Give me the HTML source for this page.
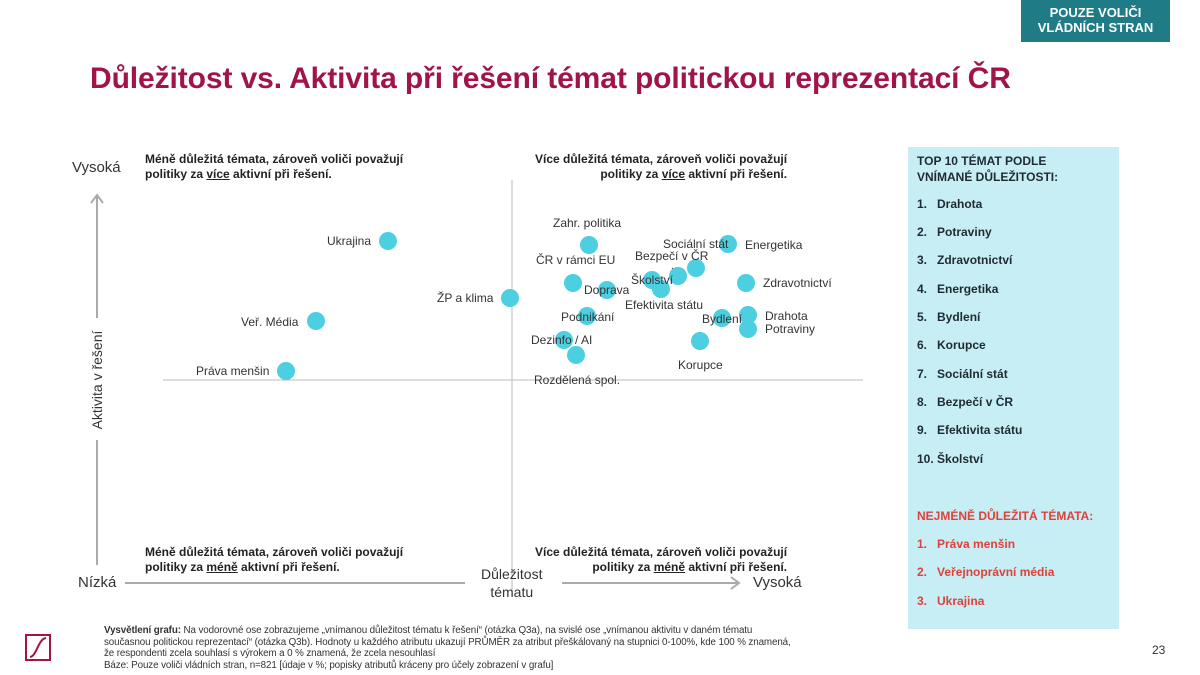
<!DOCTYPE html>
<html><head><meta charset="utf-8"><style>
body{margin:0;width:1200px;height:675px;background:#fff;position:relative;overflow:hidden;font-family:"Liberation Sans","DejaVu Sans",sans-serif;color:#222}
.a{position:absolute;white-space:nowrap}
.q{font-weight:bold;font-size:12px;line-height:15px;color:#222}
.l{font-size:12px;color:#333}
.d{position:absolute;width:18px;height:18px;border-radius:50%;background:#4ccfe0;margin:-9px 0 0 -9px}
.p{position:absolute;left:908px;top:147px;width:211px;height:482px;background:#c6eef4}
.p div{position:absolute;left:9px;font-weight:bold;font-size:12px;color:#1f2a33;white-space:nowrap}
.r{color:#e0413a!important}
</style></head><body>
<div class="a" style="left:1021px;top:0;width:149px;height:42px;background:#1f7b85;color:#fff;font-weight:bold;font-size:13px;text-align:center;line-height:15px;padding-top:5px;box-sizing:border-box">POUZE VOLIČI<br>VLÁDNÍCH STRAN</div>
<div class="a" style="left:90px;top:62px;font-size:30px;font-weight:bold;color:#a0144a;letter-spacing:-0.1px">Důležitost vs. Aktivita při řešení témat politickou reprezentací ČR</div>

<svg class="a" style="left:0;top:0" width="900" height="620">
<line x1="512" y1="180" x2="512" y2="592" stroke="#bbb" stroke-width="1"/>
<line x1="163" y1="380" x2="863" y2="380" stroke="#bbb" stroke-width="1"/>
<line x1="97" y1="196" x2="97" y2="318" stroke="#aaa" stroke-width="2"/>
<line x1="97" y1="440" x2="97" y2="565" stroke="#aaa" stroke-width="2"/>
<polyline points="91,203 97,195 103,203" fill="none" stroke="#aaa" stroke-width="2"/>
<line x1="125" y1="583" x2="465" y2="583" stroke="#aaa" stroke-width="2"/>
<line x1="562" y1="583" x2="738" y2="583" stroke="#aaa" stroke-width="2"/>
<polyline points="731,577 739,583 731,589" fill="none" stroke="#aaa" stroke-width="2"/>
<line x1="672" y1="268" x2="680" y2="277" stroke="#333" stroke-width="1"/>
</svg>
<div class="a" style="left:72px;top:159px;font-size:15px;color:#333">Vysoká</div>
<div class="a" style="left:78px;top:574px;font-size:15px;color:#333">Nízká</div>
<div class="a" style="left:97px;top:380px;font-size:14px;color:#333;transform:translate(-50%,-50%) rotate(-90deg)">Aktivita v řešení</div>
<div class="a" style="left:481px;top:565px;font-size:14px;color:#333;text-align:center;line-height:18px">Důležitost<br>tématu</div>
<div class="a" style="left:753px;top:574px;font-size:15px;color:#333">Vysoká</div>

<div class="a q" style="left:145px;top:152px">Méně důležitá témata, zároveň voliči považují<br>politiky za <u>více</u> aktivní při řešení.</div>
<div class="a q" style="left:535px;top:152px;text-align:right">Více důležitá témata, zároveň voliči považují<br>politiky za <u>více</u> aktivní při řešení.</div>
<div class="a q" style="left:145px;top:545px">Méně důležitá témata, zároveň voliči považují<br>politiky za <u>méně</u> aktivní při řešení.</div>
<div class="a q" style="left:535px;top:545px;text-align:right">Více důležitá témata, zároveň voliči považují<br>politiky za <u>méně</u> aktivní při řešení.</div>

<div class="d" style="left:388px;top:241px"></div><div class="a l" style="left:327px;top:234px">Ukrajina</div>
<div class="d" style="left:316px;top:321px"></div><div class="a l" style="left:241px;top:315px">Veř. Média</div>
<div class="d" style="left:286px;top:371px"></div><div class="a l" style="left:196px;top:364px">Práva menšin</div>
<div class="d" style="left:510px;top:298px"></div><div class="a l" style="left:437px;top:291px">ŽP a klima</div>
<div class="d" style="left:589px;top:245px"></div><div class="a l" style="left:553px;top:216px">Zahr. politika</div>
<div class="d" style="left:573px;top:283px"></div><div class="a l" style="left:536px;top:253px">ČR v rámci EU</div>
<div class="d" style="left:607px;top:290px"></div>
<div class="d" style="left:587px;top:316px"></div>
<div class="d" style="left:564px;top:340px"></div>
<div class="d" style="left:576px;top:355px"></div>
<div class="d" style="left:652px;top:280px"></div>
<div class="d" style="left:661px;top:289px"></div>
<div class="d" style="left:678px;top:276px"></div>
<div class="d" style="left:696px;top:268px"></div>
<div class="d" style="left:728px;top:244px"></div>
<div class="d" style="left:746px;top:283px"></div>
<div class="d" style="left:722px;top:318px"></div>
<div class="d" style="left:748px;top:315px"></div>
<div class="d" style="left:748px;top:329px"></div>
<div class="d" style="left:700px;top:341px"></div>
<div class="a l" style="left:584px;top:283px">Doprava</div>
<div class="a l" style="left:561px;top:310px">Podnikání</div>
<div class="a l" style="left:531px;top:333px">Dezinfo / AI</div>
<div class="a l" style="left:534px;top:373px">Rozdělená spol.</div>
<div class="a l" style="left:631px;top:273px">Školství</div>
<div class="a l" style="left:625px;top:298px">Efektivita státu</div>
<div class="a l" style="left:635px;top:249px">Bezpečí v ČR</div>
<div class="a l" style="left:663px;top:237px">Sociální stát</div>
<div class="a l" style="left:745px;top:238px">Energetika</div>
<div class="a l" style="left:763px;top:276px">Zdravotnictví</div>
<div class="a l" style="left:702px;top:312px">Bydlení</div>
<div class="a l" style="left:765px;top:309px">Drahota</div>
<div class="a l" style="left:765px;top:322px">Potraviny</div>
<div class="a l" style="left:678px;top:358px">Korupce</div>

<div class="p">
<div style="top:6px;line-height:16px">TOP 10 TÉMAT PODLE<br>VNÍMANÉ DŮLEŽITOSTI:</div>
<div style="top:50px">1.&nbsp;&nbsp;&nbsp;Drahota</div>
<div style="top:78px">2.&nbsp;&nbsp;&nbsp;Potraviny</div>
<div style="top:106px">3.&nbsp;&nbsp;&nbsp;Zdravotnictví</div>
<div style="top:135px">4.&nbsp;&nbsp;&nbsp;Energetika</div>
<div style="top:163px">5.&nbsp;&nbsp;&nbsp;Bydlení</div>
<div style="top:191px">6.&nbsp;&nbsp;&nbsp;Korupce</div>
<div style="top:220px">7.&nbsp;&nbsp;&nbsp;Sociální stát</div>
<div style="top:248px">8.&nbsp;&nbsp;&nbsp;Bezpečí v ČR</div>
<div style="top:276px">9.&nbsp;&nbsp;&nbsp;Efektivita státu</div>
<div style="top:305px">10. Školství</div>
<div class="r" style="top:362px">NEJMÉNĚ DŮLEŽITÁ TÉMATA:</div>
<div class="r" style="top:390px">1.&nbsp;&nbsp;&nbsp;Práva menšin</div>
<div class="r" style="top:418px">2.&nbsp;&nbsp;&nbsp;Veřejnoprávní média</div>
<div class="r" style="top:447px">3.&nbsp;&nbsp;&nbsp;Ukrajina</div>
</div>

<svg class="a" style="left:25px;top:634px" width="27" height="28"><rect x="1" y="1" width="24" height="25" fill="none" stroke="#a0144a" stroke-width="2"/><path d="M5 23 C12 22 13 5 21 4" fill="none" stroke="#a0144a" stroke-width="2"/></svg>
<div class="a" style="left:104px;top:625px;font-size:9.8px;line-height:11.5px;color:#333;letter-spacing:-0.1px">
<b>Vysvětlení grafu:</b> Na vodorovné ose zobrazujeme „vnímanou důležitost tématu k řešení“ (otázka Q3a), na svislé ose „vnímanou aktivitu v daném tématu<br>současnou politickou reprezentací“ (otázka Q3b). Hodnoty u každého atributu ukazují PRŮMĚR za atribut přeškálovaný na stupnici 0-100%, kde 100 % znamená,<br>že respondenti zcela souhlasí s výrokem a 0 % znamená, že zcela nesouhlasí<br>Báze: Pouze voliči vládních stran, n=821 [údaje v %; popisky atributů kráceny pro účely zobrazení v grafu]</div>
<div class="a" style="left:1152px;top:643px;font-size:12px;color:#333">23</div>
</body></html>
